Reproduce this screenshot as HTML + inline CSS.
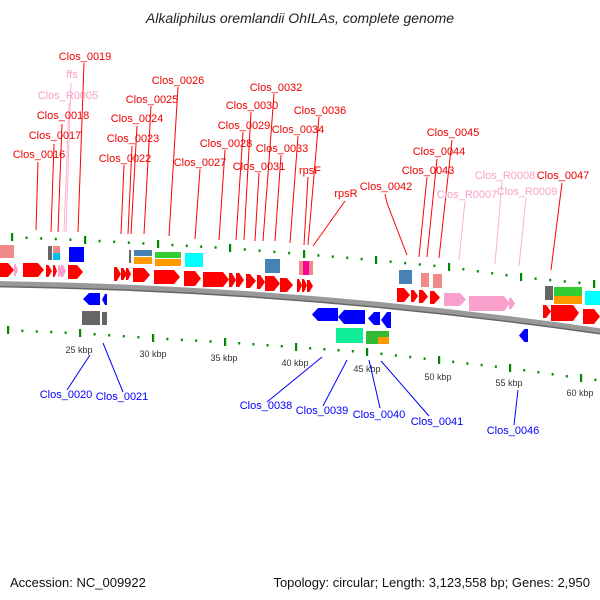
<!DOCTYPE html>
<html><head><meta charset="utf-8"><style>
html,body{margin:0;padding:0;background:#fff;}
svg{display:block;font-family:"Liberation Sans",sans-serif;}
.r{fill:#e00;font-size:11px;text-anchor:middle}
.p{fill:#f8a0c8;font-size:11px;text-anchor:middle}
.b{fill:#00f;font-size:11px;text-anchor:middle}
.k{fill:#333;font-size:9px;text-anchor:middle}
.lr{stroke:#f00;stroke-width:1;fill:none}
.lp{stroke:#f9b0d0;stroke-width:1;fill:none}
.lb{stroke:#00f;stroke-width:1;fill:none}
</style></head><body>
<svg id="s" width="600" height="600" viewBox="0 0 600 600" xmlns="http://www.w3.org/2000/svg">
<text x="300" y="23" font-size="14" font-style="italic" text-anchor="middle" fill="#222">Alkaliphilus oremlandii OhILAs, complete genome</text>

<!-- backbone -->
<path d="M-5,284 Q300,288 605,332" stroke="#999" stroke-width="6" fill="none"/>
<path d="M-5,286.5 Q300,290.5 605,334.5" stroke="#666" stroke-width="1.5" fill="none"/>
<g id="ticks"></g>

<!-- upper boxes -->
<rect x="0" y="245" width="14" height="13" fill="#f08a8a"/>
<rect x="48" y="246" width="4" height="14" fill="#666"/>
<rect x="53" y="246" width="7" height="7" fill="#f08a8a"/>
<rect x="53" y="253" width="7" height="7" fill="#00c0f0"/>
<rect x="69" y="247" width="15" height="15" fill="#00f"/>
<rect x="129" y="250" width="2" height="13" fill="#666"/>
<rect x="134" y="250" width="18" height="6" fill="#4682b4"/>
<rect x="134" y="257" width="18" height="7" fill="#f90"/>
<rect x="155" y="252" width="26" height="6" fill="#3c3"/>
<rect x="155" y="259" width="26" height="7" fill="#f90"/>
<rect x="185" y="253" width="18" height="14" fill="#0ff"/>
<rect x="265" y="259" width="15" height="14" fill="#4682b4"/>
<rect x="299" y="261" width="14" height="14" fill="#f08a8a"/>
<rect x="303" y="261" width="6" height="14" fill="#f09"/>
<rect x="399" y="270" width="13" height="14" fill="#4682b4"/>
<rect x="421" y="273" width="8" height="14" fill="#f08a8a"/>
<rect x="433" y="274" width="9" height="14" fill="#f08a8a"/>
<rect x="545" y="286" width="8" height="14" fill="#666"/>
<rect x="554" y="287" width="28" height="9" fill="#3c3"/>
<rect x="554" y="296" width="28" height="8" fill="#f90"/>
<rect x="585" y="291" width="15" height="14" fill="#0ff"/>

<g id="arrows"></g>

<!-- lower boxes -->
<rect x="82" y="311" width="18" height="14" fill="#666"/>
<rect x="102" y="312" width="5" height="13" fill="#666"/>
<rect x="336" y="328" width="27" height="15" fill="#1e9"/>
<rect x="366" y="331" width="13" height="13" fill="#3b3"/>
<rect x="378" y="331" width="11" height="6" fill="#3b3"/>
<rect x="378" y="337" width="11" height="7" fill="#f90"/>

<!-- kbp labels -->
<text class="k" x="79" y="353">25 kbp</text>
<text class="k" x="153" y="357">30 kbp</text>
<text class="k" x="224" y="361">35 kbp</text>
<text class="k" x="295" y="366">40 kbp</text>
<text class="k" x="367" y="372">45 kbp</text>
<text class="k" x="438" y="380">50 kbp</text>
<text class="k" x="509" y="386">55 kbp</text>
<text class="k" x="580" y="396">60 kbp</text>

<!-- upper label lines -->
<path class="lr" d="M84,63 L78,232 M62,124 L58,232 M54,144 L51,232 M38,162 L36,230 M124,165 L121,234 M132,146 L128,234 M137,126 L131,234 M151,106 L144,234 M178,87 L169,236 M200,169 L195,239 M225,150 L219,240 M243,132 L236,240 M251,112 L244,240 M259,173 L255,241 M274,94 L263,241 M281,155 L275,241 M298,136 L290,243 M319,117 L308,245 M308,177 L304,245 M345,201 L313,246 M385,194 L387,203 L407,255 M427,177 L419,257 M437,159 L427,257 M452,140 L439,258 M562,183 L551,270"/>
<path class="lp" d="M71,83 L66,232 M69,103 L64,232 M465,201 L459,260 M502,182 L495,264 M526,198 L519,266"/>
<text class="r" x="85" y="60">Clos_0019</text>
<text class="p" x="72" y="78">ffs</text>
<text class="p" x="68" y="99">Clos_R0005</text>
<text class="r" x="63" y="119">Clos_0018</text>
<text class="r" x="55" y="139">Clos_0017</text>
<text class="r" x="39" y="158">Clos_0016</text>
<text class="r" x="125" y="162">Clos_0022</text>
<text class="r" x="133" y="142">Clos_0023</text>
<text class="r" x="137" y="122">Clos_0024</text>
<text class="r" x="152" y="103">Clos_0025</text>
<text class="r" x="178" y="84">Clos_0026</text>
<text class="r" x="200" y="166">Clos_0027</text>
<text class="r" x="226" y="147">Clos_0028</text>
<text class="r" x="244" y="129">Clos_0029</text>
<text class="r" x="252" y="109">Clos_0030</text>
<text class="r" x="259" y="170">Clos_0031</text>
<text class="r" x="276" y="91">Clos_0032</text>
<text class="r" x="282" y="152">Clos_0033</text>
<text class="r" x="298" y="133">Clos_0034</text>
<text class="r" x="320" y="114">Clos_0036</text>
<text class="r" x="310" y="174">rpsF</text>
<text class="r" x="346" y="197">rpsR</text>
<text class="r" x="386" y="190">Clos_0042</text>
<text class="r" x="428" y="174">Clos_0043</text>
<text class="r" x="439" y="155">Clos_0044</text>
<text class="r" x="453" y="136">Clos_0045</text>
<text class="p" x="467" y="198">Clos_R0007</text>
<text class="p" x="505" y="179">Clos_R0008</text>
<text class="p" x="527" y="195">Clos_R0009</text>
<text class="r" x="563" y="179">Clos_0047</text>

<!-- lower label lines -->
<path class="lb" d="M67,390 L90,355 M123,392 L103,343 M267,402 L322,357 M323,406 L347,360 M380,408 L369,360 M429,416 L381,361 M514,425 L518,390"/>
<text class="b" x="66" y="398">Clos_0020</text>
<text class="b" x="122" y="400">Clos_0021</text>
<text class="b" x="266" y="409">Clos_0038</text>
<text class="b" x="322" y="414">Clos_0039</text>
<text class="b" x="379" y="418">Clos_0040</text>
<text class="b" x="437" y="425">Clos_0041</text>
<text class="b" x="513" y="434">Clos_0046</text>

<text x="10" y="587" font-size="13" fill="#111">Accession: NC_009922</text>
<text x="590" y="587" font-size="13" fill="#111" text-anchor="end">Topology: circular; Length: 3,123,558 bp; Genes: 2,950</text>
</svg>
<script>
var NS="http://www.w3.org/2000/svg";
function el(p,t,a){var e=document.createElementNS(NS,t);for(var k in a)e.setAttribute(k,a[k]);p.appendChild(e);return e;}
var tg=document.getElementById("ticks");
var up=[[12,237],[85,240],[158,244],[230,248],[304,254],[376,260],[449,267],[521,277],[594,284]];
var lo=[[8,330],[80,333],[153,338],[225,342],[296,347],[367,352],[439,360],[510,368],[581,378]];
[up,lo].forEach(function(row){
 for(var i=0;i<row.length;i++){
  var x=row[i][0],y=row[i][1];
  el(tg,"rect",{x:x-1,y:y-4,width:2.2,height:8,fill:"#080"});
  var nx,ny;
  if(i<row.length-1){nx=row[i+1][0];ny=row[i+1][1];}else{nx=x+72;ny=y+8;}
  var px,py; if(i==0){px=x-72;py=y-3;for(var j=1;j<5;j++){var xx=px+(x-px)*j/5,yy=py+(y-py)*j/5;el(tg,"rect",{x:xx-1,y:yy-1,width:2,height:2.5,fill:"#080"});}}
  for(var j=1;j<5;j++){var xx=x+(nx-x)*j/5,yy=y+(ny-y)*j/5;el(tg,"rect",{x:xx-1,y:yy-1,width:2,height:2.5,fill:"#080"});}
 }
});
var ag=document.getElementById("arrows");
function ra(x1,x2,y,h,c){var t=Math.min(6,(x2-x1)*0.6);el(ag,"polygon",{points:x1+","+y+" "+(x2-t)+","+y+" "+x2+","+(y+h/2)+" "+(x2-t)+","+(y+h)+" "+x1+","+(y+h),fill:c});}
function la(x1,x2,y,h,c){var t=Math.min(6,(x2-x1)*0.6);el(ag,"polygon",{points:x2+","+y+" "+(x1+t)+","+y+" "+x1+","+(y+h/2)+" "+(x1+t)+","+(y+h)+" "+x2+","+(y+h),fill:c});}
var R="#f00",P="#f9a0cc",B="#00f";
ra(0,14,263,14,R);ra(14,18,264,12,P);ra(23,44,263,14,R);ra(46,52,265,12,R);ra(53,57,265,12,R);ra(58,62,265,12,P);ra(61,66,265,12,P);ra(68,83,265,14,R);
ra(114,121,267,14,R);ra(121,127,268,12,R);ra(126,131,268,12,R);ra(133,150,268,14,R);ra(154,180,270,14,R);ra(184,201,271,15,R);ra(203,229,272,15,R);
ra(229,236,273,14,R);ra(236,244,273,14,R);ra(246,256,274,14,R);ra(257,265,275,14,R);ra(265,280,276,15,R);ra(280,293,278,14,R);ra(297,302,279,13,R);ra(302,307,279,13,R);ra(307,313,280,12,R);
ra(397,410,288,14,R);ra(411,418,290,12,R);ra(419,428,290,13,R);ra(430,440,291,13,R);ra(444,466,293,13,P);ra(469,510,296,15,P);ra(509,515,298,11,P);
ra(543,551,305,13,R);ra(551,579,305,16,R);ra(583,600,309,15,R);
la(83,100,293,12,B);la(102,107,294,11,B);la(312,338,308,13,B);la(338,365,310,14,B);la(368,380,312,13,B);la(381,391,312,16,B);la(519,528,329,13,B);
</script>
</body></html>
